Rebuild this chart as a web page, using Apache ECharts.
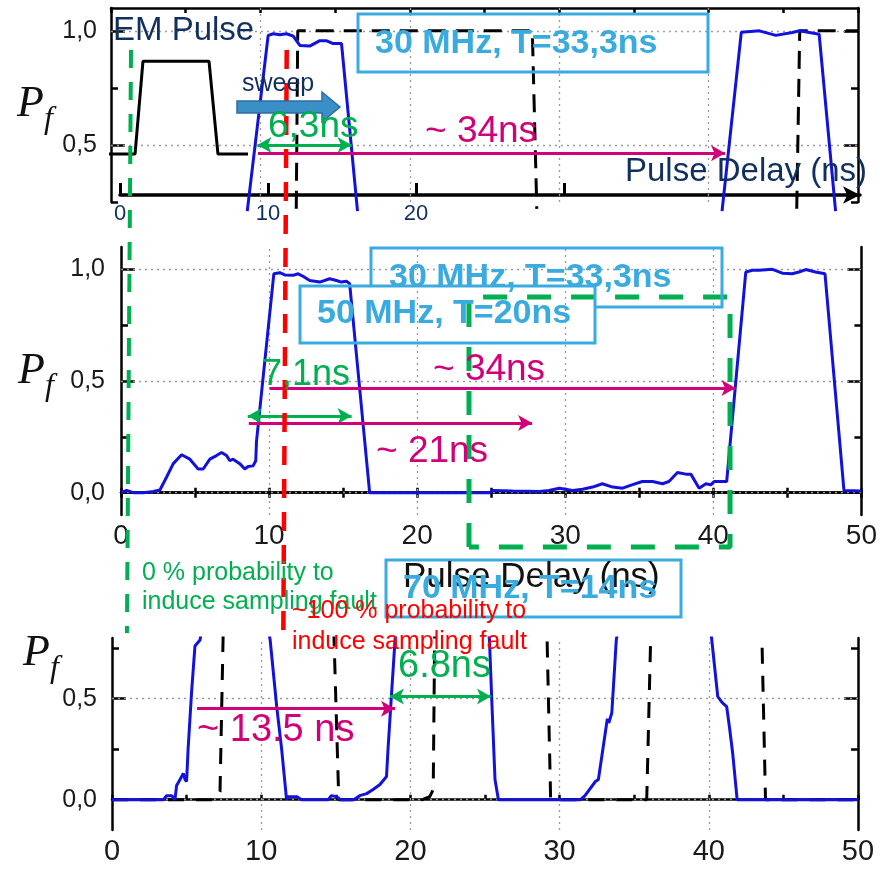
<!DOCTYPE html>
<html><head><meta charset="utf-8">
<script src="https://cdn.jsdelivr.net/npm/echarts@6/dist/echarts.min.js"></script>
<style>html,body{margin:0;padding:0;background:#fff}#c{width:880px;height:870px}</style>
</head><body><div id="c"></div>
<script>
// ---------- data ----------
const xTickLabels = [0, 10, 20, 30, 40, 50];
const sweepTickValues = [0, 10, 20, 30];
const sweepTickLabels = [0, 10, 20];
const gridX = [10, 20, 30, 40];

// top panel (30 MHz, sweep illustration)
const topMajor = [0.5, 1.0], topMinor = [0.25, 0.75], topLabels = [0.5, 1.0];
const topPulseBlue = [[9.12,0.21],[10.52,0.98],[10.86,0.987],[11.3,0.983],[11.75,0.987],[12.2,0.977],[12.64,0.936],[13.3,0.933],[13.98,0.957],[14.4,0.957],[14.87,0.944],[15.43,0.944],[16.5,0.21],
  null,[40.9,0.21],[42.19,0.994],[43.4,1.0],[44.5,0.98],[45.6,0.993],[46.09,1.0],[47.4,0.985],[48.5,0.21]];
const topClock = [[12.4,0.22],[12.5,1.0],[28.2,1.0],[28.5,0.22],null,[45.9,0.22],[46.1,1.0],[50,1.0]];
const emPulse = [[-0.4,0.46],[1.61,0.46],[2.14,0.867],[6.56,0.867],[7.16,0.46],[9.17,0.46]];
const arrowTop63 = [[9.8,0.5],[16.1,0.5]];
const arrowTop34 = [[9.84,0.464],[41.1,0.464]];

// middle panel (50 MHz)
const midMajor = [0, 0.5, 1.0], midMinor = [0.25, 0.75], midLabels = [0, 0.5, 1.0];
const midPulseBlue = [[0,0],[0.38,0.01],[0.83,0],[1.5,0],[2.18,0.005],[2.63,0.012],[3.08,0.07],[3.53,0.13],[4.09,0.17],[4.65,0.15],[5.21,0.106],[5.55,0.106],[6.0,0.15],[6.45,0.166],[6.79,0.18],[7.13,0.166],[7.35,0.143],[7.57,0.15],[8.02,0.13],[8.36,0.106],[8.58,0.117],[8.92,0.12],[9.1,0.143],[9.15,0.23],
  [10.32,0.98],[10.72,0.985],[11.06,0.975],[11.62,0.973],[11.96,0.98],[12.29,0.969],[12.74,0.95],[13.42,0.943],[14.09,0.958],[14.55,0.95],[14.88,0.943],[15.22,0.947],[15.44,0.936],[16.79,0],
  [21.5,0],[24.9,0],[25.1,0.01],[26.45,0.007],[28.25,0.005],[28.9,0.01],[29.6,0.02],[30.5,0.01],[31.17,0.015],[31.85,0.025],[32.5,0.04],[33.2,0.025],[33.87,0.02],[34.5,0.035],[35.2,0.05],[35.9,0.05],[36.57,0.04],[37.0,0.05],[37.58,0.09],[38.14,0.083],[38.48,0.083],[39.04,0.02],[39.5,0.04],[39.83,0.035],[40.05,0.05],[40.9,0.05],
  [42.19,0.988],[42.64,0.996],[43.09,0.996],[43.99,1.0],[44.66,0.983],[45.33,0.98],[45.78,0.988],[46.24,0.999],[46.9,0.988],[47.54,0.98],[48.82,0.01],[50,0.007]];
const arrowMid71 = [[8.56,0.343],[15.57,0.343]];
const arrowMid34 = [[10.04,0.469],[41.5,0.469]];
const arrowMid21 = [[8.63,0.312],[27.76,0.312]];

// bottom panel (70 MHz)
const botMajor = [0, 0.5], botMinor = [0.25, 0.75], botLabels = [0, 0.5];
const botPulseBlue = [[0,0],[3.44,0],[3.66,0.02],[4.0,0.02],[4.22,0],[4.33,0.07],[4.56,0.10],[4.78,0.13],[4.89,0.10],[5.0,0.09],[5.1,0.25],[5.34,0.54],[5.56,0.76],[5.9,0.79],[6.3,0.97],[10.2,0.97],[10.6,0.79],[11.04,0.46],[11.37,0.25],[11.7,0],[11.8,0.015],[12.4,0.015],[12.7,0],[14.5,0],[14.7,0.02],[15.06,0.015],[15.3,0],[16.2,0],[16.6,0.02],[17.07,0.03],[17.5,0.05],[17.96,0.075],[18.4,0.115],[18.5,0.25],[18.75,0.54],[18.97,0.79],[19.3,0.97],
  [25.0,0.97],[25.3,0.79],[25.45,0.5],[25.67,0.1],[25.9,0],[31.4,0],[31.7,0.02],[31.9,0.04],[32.4,0.09],[32.6,0.10],[32.9,0.25],[33.2,0.40],[33.3,0.38],[33.5,0.43],[33.8,0.79],[34.2,0.97],[39.9,0.97],[40.2,0.79],[40.6,0.51],[40.9,0.48],[41.2,0.46],[41.4,0.35],[41.6,0.23],[41.9,0],[50,0]];
const botClock = [[0,0],[6.8,0],[7.1,0.015],[7.24,0.04],[7.5,1.0],[14.8,1.0],[15.2,0],[20.8,0],[21.3,0.015],[21.53,0.05],[21.65,1.0],[29.1,1.0],[29.4,0],[35.84,0],[36.17,1.0],[43.5,1.0],[43.8,0],[50,0]];
const arrowBot135 = [[5.7,0.45],[18.97,0.45]];
const arrowBot68 = [[18.63,0.51],[25.4,0.51]];

// cross-panel markers (in middle-panel units)
const markerZero = [[0.674,1.982],[0.40,-0.629]];
const markerFull = [[11.166,1.982],[10.94,-0.615]];
const zoomBox = [[23.45,-0.243],[23.45,0.876],[41.04,0.876],[41.04,-0.243],[23.45,-0.243]];

// ---------- style ----------
const NAVY = '#12305f', LBLUE = '#3aabdf', MAG = '#d1007a', GREEN = '#00b050', RED = '#ff0000', BLUE = '#1212dc';
const SANS = "'Liberation Sans', Arial, sans-serif";
const NARROW = "'Liberation Sans Narrow', 'Liberation Sans', Arial, sans-serif";
const FRAME = {color:'#000', width:2.5};

function segs(arr){ const out=[[]]; arr.forEach(p=>{ if(p===null) out.push([]); else out[out.length-1].push(p); }); return out; }

function yAxesFor(g, min, max, majors, minors, labels, margin){
  const base = {type:'value', gridIndex:g, min, max, splitLine:{show:false}};
  const tick = (vals, len)=>({show:true, inside:true, length:len, customValues:vals, lineStyle:FRAME});
  return [
    Object.assign({}, base, {position:'left', axisLine:{show:true, lineStyle:FRAME}, axisTick:tick(majors,14),
      axisLabel:{show:true, customValues:labels, formatter:v=>v.toFixed(1).replace('.',','), margin, fontSize:25, color:'#1a1a1a', fontFamily:NARROW}}),
    Object.assign({}, base, {position:'left', axisLine:{show:false}, axisTick:tick(minors,7), axisLabel:{show:false}}),
    Object.assign({}, base, {position:'right', axisLine:{show:true, lineStyle:FRAME}, axisTick:tick(majors,14), axisLabel:{show:false}}),
    Object.assign({}, base, {position:'right', axisLine:{show:false}, axisTick:tick(minors,7), axisLabel:{show:false}})
  ];
}
function xAxesFor(g, showBottom, showTop, labelSize, margin){
  const base = {type:'value', gridIndex:g, min:0, max:50, interval:5, splitLine:{show:false}};
  return [
    Object.assign({}, base, {position:'bottom', show:showBottom, axisLine:{show:true, lineStyle:FRAME},
      axisTick:{show:true, inside:true, length:5, lineStyle:FRAME},
      axisLabel:{show:true, customValues:xTickLabels, margin, fontSize:labelSize, color:'#1a1a1a', fontFamily:NARROW}}),
    Object.assign({}, base, {position:'top', show:showTop, axisLine:{show:true, lineStyle:FRAME},
      axisTick:{show:true, inside:true, length:5, lineStyle:FRAME}, axisLabel:{show:false}})
  ];
}

const grid = [
  {left:111, top:8, width:747, height:194},      // top panel
  {left:121, top:247, width:742, height:268},    // middle panel
  {left:112, top:638, width:746, height:192},    // bottom panel
  {left:120, top:150, width:740, height:45},     // sweep axis
  {left:0, top:0, right:0, bottom:0}             // overlay in middle-panel units
];

const xAxis = [].concat(
  xAxesFor(0, false, true, 25, 7),
  xAxesFor(1, true, true, 28, 7),
  xAxesFor(2, true, false, 29, 7),
  [{type:'value', gridIndex:3, min:0, max:50, position:'bottom',
    axisLine:{show:true, symbol:['none','arrow'], symbolSize:[13,17], lineStyle:{color:'#000', width:3.5}},
    axisTick:{show:true, inside:true, length:12, customValues:sweepTickValues, lineStyle:{color:'#000', width:3}},
    axisLabel:{show:true, customValues:sweepTickLabels, color:NAVY, fontSize:22, fontFamily:SANS, margin:8},
    splitLine:{show:false}},
   {type:'value', gridIndex:4, min:-8.1536, max:51.146, show:false, splitLine:{show:false}}]
);
const yAxis = [].concat(
  yAxesFor(0, 0.25, 1.1, topMajor, topMinor, topLabels, 14),
  yAxesFor(1, -0.1, 1.1, midMajor, midMinor, midLabels, 16),
  yAxesFor(2, -0.15, 0.8, botMajor, botMinor, botLabels, 15),
  [{type:'value', gridIndex:3, min:0, max:1, show:false, splitLine:{show:false}},
   {type:'value', gridIndex:4, min:-1.6896, max:2.206, show:false, splitLine:{show:false}}]
);

// panel -> [xAxisIndex, yAxisIndex]
const P = {top:[0,0], mid:[2,4], bot:[4,8], sweep:[6,12], over:[7,13]};

const series = [];
function addCurve(panel, pts, color, width, dash, clip, z, extra){
  segs(pts).forEach((s,i)=>{
    series.push(Object.assign({type:'line', xAxisIndex:P[panel][0], yAxisIndex:P[panel][1], data:s, symbol:'none',
      clip, z: z||2, silent:true, animation:false,
      lineStyle:{color, width, type:dash||'solid'}}, i===0 ? (extra||{}) : {}));
  });
}
function gridLines(panel, ys){
  const dotted = {color:'#9a9a9a', width:1.3, type:[2,4]};
  series.push({type:'line', xAxisIndex:P[panel][0], yAxisIndex:P[panel][1], data:[], silent:true, animation:false, z:1,
    markLine:{silent:true, symbol:'none', animation:false, label:{show:false}, lineStyle:dotted, z:1,
      data: gridX.map(v=>({xAxis:v})).concat(ys.map(v=>({yAxis:v})))}});
}
function arrowItem(pts, color, both){
  return [{coord:pts[0], symbol: both?'arrow':'none', symbolSize:[12,14], lineStyle:{color, width:3, type:'solid'}},
          {coord:pts[1], symbol:'arrow', symbolSize:[12,14]}];
}
function arrows(list){ return {silent:true, animation:false, label:{show:false}, data:list}; }

gridLines('top', [0.5, 1.0]);
gridLines('mid', [0, 0.5, 1.0]);
gridLines('bot', [0, 0.5]);

addCurve('top', topClock, '#000', 3, [18,10], false, 2);
addCurve('top', topPulseBlue, BLUE, 3, 'solid', false, 3);
addCurve('top', emPulse, '#000', 3, 'solid', false, 3, {markLine: arrows([arrowItem(arrowTop63, GREEN, true), arrowItem(arrowTop34, MAG, false)])});

addCurve('mid', midPulseBlue, BLUE, 3, 'solid', true, 3, {markLine: arrows([arrowItem(arrowMid71, GREEN, true), arrowItem(arrowMid34, MAG, false), arrowItem(arrowMid21, MAG, false)])});

addCurve('bot', botClock, '#000', 3, [16,12], true, 2);
addCurve('bot', botPulseBlue, BLUE, 3, 'solid', true, 3, {markLine: arrows([arrowItem(arrowBot135, MAG, false), arrowItem(arrowBot68, GREEN, true)])});

series.push({type:'line', xAxisIndex:P.sweep[0], yAxisIndex:P.sweep[1], data:[], silent:true});
addCurve('over', markerZero, GREEN, 4, [18,14], false, 6);
addCurve('over', markerFull, RED, 4.5, [19,14], false, 6);
addCurve('over', zoomBox, GREEN, 5, [24,20], false, 6);

// ---------- annotations ----------
function txt(t, x, y, size, color, opt){
  opt = opt||{};
  return {type:'text', x, y, z:100, silent:true, style:{text:t, fontSize:size, fontFamily:opt.family||SANS, fontWeight:opt.bold?'bold':'normal',
    fontStyle:opt.italic?'italic':'normal', fill:color, align:'left', verticalAlign:'middle'}};
}
function box(x, y, w, h){ return {type:'rect', z:99, silent:true, shape:{x, y, width:w, height:h}, style:{fill:'none', stroke:LBLUE, lineWidth:3}}; }
const SERIF = "'Liberation Serif', 'DejaVu Serif', serif";
const graphic = [
  txt('EM Pulse', 113, 31, 33, NAVY),
  box(358, 14, 350, 58),
  txt('30 MHz, T=33,3ns', 375, 44, 34, LBLUE, {bold:true}),
  txt('sweep', 242, 84, 25, NAVY),
  {type:'polygon', z:98, silent:true, shape:{points:[[237,101],[322,101],[322,92],[340,107],[322,122],[322,113],[237,113]]},
    style:{fill:'#3b8fc7', stroke:'#2d6ca3', lineWidth:1.5}},
  txt('6,3ns', 268, 127, 37, GREEN),
  txt('~ 34ns', 425, 132, 37, MAG),
  txt('Pulse Delay (ns)', 625, 172, 33, NAVY),
  // middle
  {type:'polyline', z:99, silent:true, shape:{points:[[371,286],[371,248],[722,248],[722,307],[595,307]]}, style:{fill:'none', stroke:LBLUE, lineWidth:3}},
  txt('30 MHz, T=33,3ns', 389, 278, 34, LBLUE, {bold:true}),
  box(300, 286, 295, 57),
  txt('50 MHz, T=20ns', 317, 314, 34, LBLUE, {bold:true}),
  txt('7,1ns', 262, 375, 36, GREEN),
  txt('~ 34ns', 433, 370, 37, MAG),
  txt('~ 21ns', 376, 452, 37, MAG),
  txt('Pulse Delay (ns)', 403, 577, 35, '#111', {family:NARROW}),
  box(386, 560, 295, 57),
  txt('70 MHz, T=14ns', 403, 589, 34, LBLUE, {bold:true}),
  txt('0 % probability to', 142, 573, 25, GREEN),
  txt('induce sampling fault', 142, 602, 25, GREEN),
  txt('~100 % probability to', 292, 611, 25, RED),
  txt('induce sampling fault', 292, 642, 25, RED),
  // bottom
  txt('~ 13.5 ns', 197, 731, 38, MAG),
  txt('6.8ns', 398, 667, 38, GREEN),
  // axis names
  txt('P', 17, 104, 44, '#111', {family:SERIF, italic:true}),
  txt('f', 44, 120, 32, '#111', {family:SERIF, italic:true}),
  txt('P', 18, 371, 44, '#111', {family:SERIF, italic:true}),
  txt('f', 45, 387, 32, '#111', {family:SERIF, italic:true}),
  txt('P', 23, 653, 44, '#111', {family:SERIF, italic:true}),
  txt('f', 50, 669, 32, '#111', {family:SERIF, italic:true})
];

const chart = echarts.init(document.getElementById('c'), null, {renderer:'canvas'});
chart.setOption({animation:false, backgroundColor:'#fff', grid, xAxis, yAxis, series, graphic});
</script>
</body></html>
